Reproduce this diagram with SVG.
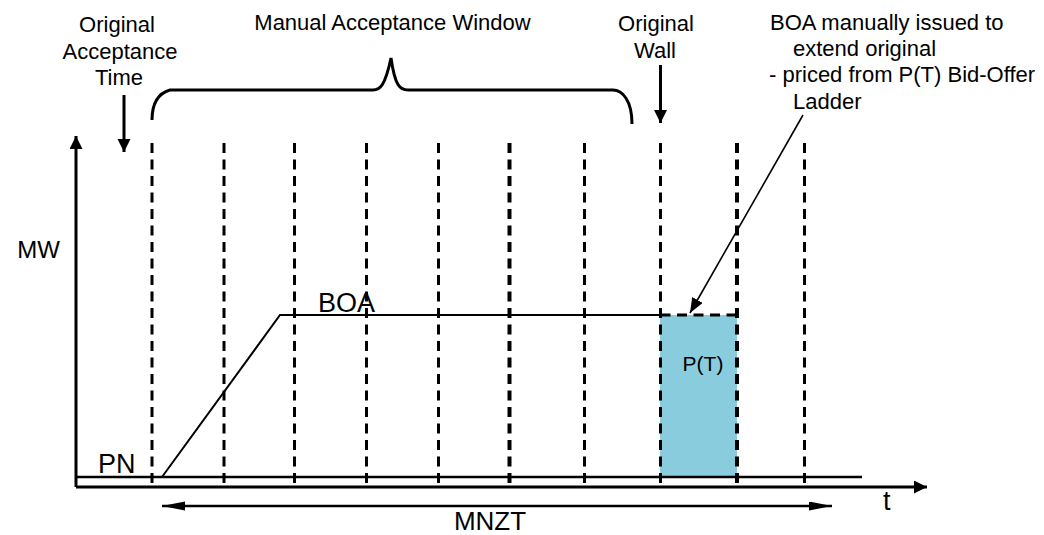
<svg xmlns="http://www.w3.org/2000/svg" width="1044" height="535" viewBox="0 0 1044 535">
<style>
text{font-family:"Liberation Sans",Arial,sans-serif;fill:#000}
.lbl{font-size:22px}
.big{font-size:27px}
.dash{stroke:#000;stroke-width:3;stroke-dasharray:10 6.5;fill:none}
.dash.thick{stroke-width:4}
.ln{stroke:#000;fill:none}
</style>
<defs>
<marker id="ah" markerWidth="15" markerHeight="15" refX="13" refY="6.5" orient="auto" markerUnits="userSpaceOnUse">
<path d="M0,0 L13,6.5 L0,13 Z" fill="#000"/>
</marker>
<marker id="ahs" markerWidth="24" markerHeight="12" refX="23" refY="4.5" orient="auto" markerUnits="userSpaceOnUse">
<path d="M0,0 L23,4.5 L0,9 Z" fill="#000"/>
</marker>
<marker id="ahp" markerWidth="16" markerHeight="14" refX="15" refY="6" orient="auto" markerUnits="userSpaceOnUse">
<path d="M0,0 L15,6 L0,12 Z" fill="#000"/>
</marker>
</defs>

<g id="ptbox">
<rect x="660" y="315" width="77" height="162" fill="#89CCDD"/>
<text x="703" y="371" font-size="21" text-anchor="middle">P(T)</text>
</g>

<g id="gridlines">
<line class="dash" x1="152" y1="143" x2="152" y2="487"/>
<line class="dash" x1="224" y1="143" x2="224" y2="487"/>
<line class="dash" x1="294.5" y1="143" x2="294.5" y2="487"/>
<line class="dash" x1="366.5" y1="143" x2="366.5" y2="487"/>
<line class="dash" x1="438.5" y1="143" x2="438.5" y2="487"/>
<line class="dash thick" x1="509.5" y1="143" x2="509.5" y2="487"/>
<line class="dash" x1="584.5" y1="143" x2="584.5" y2="487"/>
<line class="dash" x1="660.5" y1="143" x2="660.5" y2="487"/>
<line class="dash thick" x1="737" y1="143" x2="737" y2="487"/>
<line class="dash" x1="804.5" y1="143" x2="804.5" y2="487"/>
<line class="dash" x1="660.5" y1="315" x2="737" y2="315"/>
</g>

<g id="connectors">
<line class="ln" stroke-width="3" x1="76" y1="487" x2="76" y2="136" marker-end="url(#ah)"/>
<line class="ln" stroke-width="3" x1="76" y1="487" x2="927" y2="487" marker-end="url(#ah)"/>
<line class="ln" stroke-width="2.5" x1="76" y1="477" x2="862" y2="477"/>
<line class="ln" stroke-width="2.5" x1="200" y1="506" x2="162" y2="506" marker-end="url(#ahs)"/>
<line class="ln" stroke-width="2.5" x1="200" y1="506" x2="832" y2="506" marker-end="url(#ahs)"/>
<line class="ln" stroke-width="3" x1="124" y1="95" x2="124" y2="152" marker-end="url(#ah)"/>
<line class="ln" stroke-width="3" x1="660.5" y1="65" x2="660.5" y2="123" marker-end="url(#ah)"/>
<polyline class="ln" stroke-width="2" points="162,477 280,315 660,315"/>
<line class="ln" stroke-width="1.6" x1="803" y1="115" x2="690" y2="313" marker-end="url(#ahp)"/>
<path class="ln" stroke-width="3" d="M152,120 C152,106 156,94 170,90 L373,90 C380,90 385,86 391,58 C395,86 400,90 408,90 L613,90 C622,90 632,100 632,124"/>
</g>

<g id="labels">
<text class="lbl" x="117" y="32" text-anchor="middle">Original</text>
<text class="lbl" x="120" y="59" text-anchor="middle">Acceptance</text>
<text class="lbl" x="119" y="85" text-anchor="middle">Time</text>
<text class="lbl" x="392.5" y="30" text-anchor="middle">Manual Acceptance Window</text>
<text class="lbl" x="656" y="31" text-anchor="middle">Original</text>
<text class="lbl" x="655" y="58" text-anchor="middle">Wall</text>
<text class="lbl" x="770" y="30">BOA manually issued to</text>
<text class="lbl" x="793" y="56">extend original</text>
<text class="lbl" x="769" y="82">- priced from P(T) Bid-Offer</text>
<text class="lbl" x="793" y="109">Ladder</text>
<text x="60" y="258" font-size="24" text-anchor="end">MW</text>
<text class="big" x="318" y="312">BOA</text>
<text class="big" x="98" y="473">PN</text>
<text class="big" x="883" y="510">t</text>
<text x="490" y="530" font-size="26" text-anchor="middle">MNZT</text>
</g>
</svg>
